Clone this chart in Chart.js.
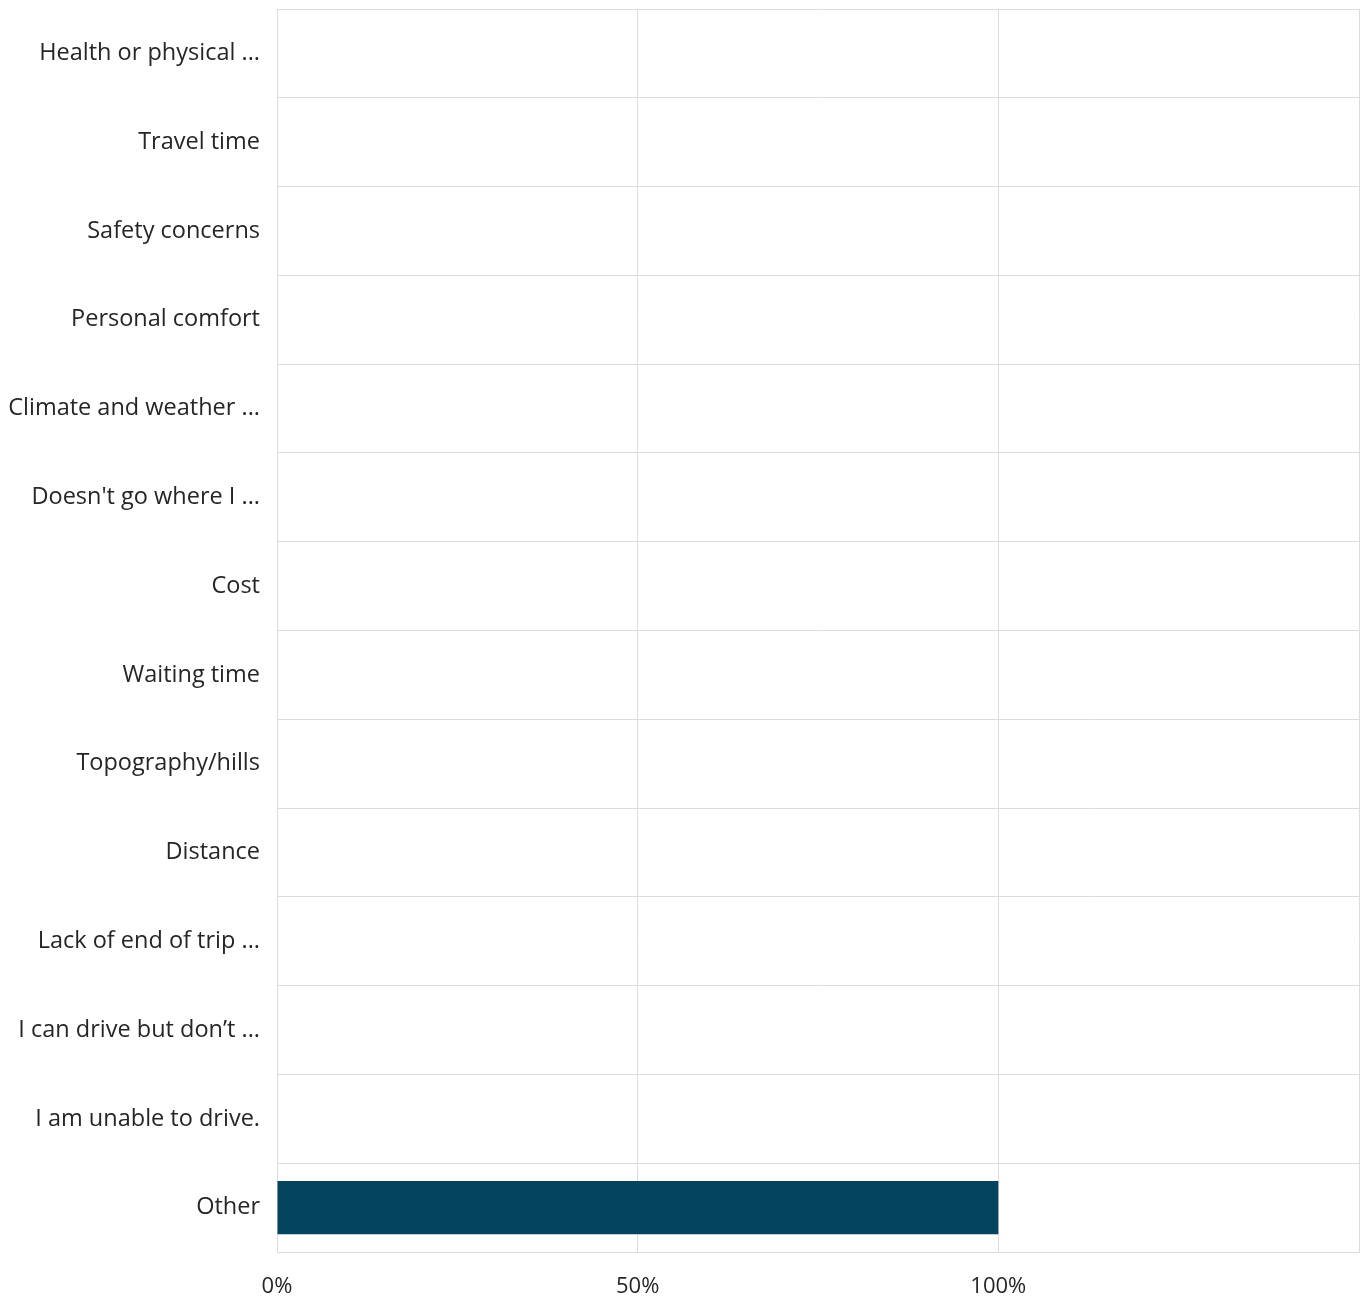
<!DOCTYPE html>
<html>
<head>
<meta charset="utf-8">
<script src="https://cdn.jsdelivr.net/npm/chart.js@4"></script>
<style>
  html, body { margin: 0; padding: 0; background: #ffffff; }
  #wrap { width: 1370px; height: 1302px; position: relative; }
</style>
</head>
<body>
<div id="wrap"><canvas id="c"></canvas></div>
<script>
// Reasons given for not using the service (share of respondents)
const categories = [
  "Health or physical ...",
  "Travel time",
  "Safety concerns",
  "Personal comfort",
  "Climate and weather ...",
  "Doesn't go where I ...",
  "Cost",
  "Waiting time",
  "Topography/hills",
  "Distance",
  "Lack of end of trip ...",
  "I can drive but don\u2019t ...",
  "I am unable to drive.",
  "Other"
];
const shares = [0, 0, 0, 0, 0, 0, 0, 0, 0, 0, 0, 0, 0, 100];
const xTicks = [0, 50, 100, 150];
const xTickLabels = ["0%", "50%", "100%", ""];

const gridColor = "#dcdcdc";
const textColor = "#262626";
const fontFamily = "'Segoe UI', 'Open Sans', 'Noto Sans', sans-serif";

new Chart(document.getElementById("c"), {
  type: "bar",
  data: {
    labels: categories,
    datasets: [{
      data: shares,
      backgroundColor: "#05445e",
      borderWidth: 0,
      categoryPercentage: 0.6,
      barPercentage: 1.0
    }]
  },
  options: {
    indexAxis: "y",
    responsive: true,
    maintainAspectRatio: false,
    animation: false,
    layout: { padding: { top: 9, right: 11, left: 0, bottom: 0 } },
    plugins: { legend: { display: false }, tooltip: { enabled: false } },
    scales: {
      x: {
        min: 0,
        max: 150,
        afterBuildTicks(scale) {
          scale.ticks = xTicks.map(v => ({ value: v }));
        },
        afterFit(scale) {
          scale.height = 50;
          scale.paddingLeft = 0;
          scale.paddingRight = 0;
        },
        grid: { color: gridColor, drawTicks: false, lineWidth: 1 },
        border: { color: gridColor, width: 1 },
        ticks: {
          padding: 22,
          color: textColor,
          maxRotation: 0,
          font: { family: fontFamily, size: 22 },
          callback(value) {
            const i = xTicks.indexOf(value);
            return i >= 0 ? xTickLabels[i] : "";
          }
        }
      },
      y: {
        afterFit(scale) {
          scale.width = 277;
          scale.paddingTop = 0;
          scale.paddingBottom = 0;
        },
        grid: { color: gridColor, drawTicks: false, offset: true, lineWidth: 1 },
        border: { color: gridColor, width: 1 },
        ticks: {
          padding: 17,
          color: textColor,
          autoSkip: false,
          font: { family: fontFamily, size: 23.5 }
        }
      }
    }
  }
});
</script>
</body>
</html>
